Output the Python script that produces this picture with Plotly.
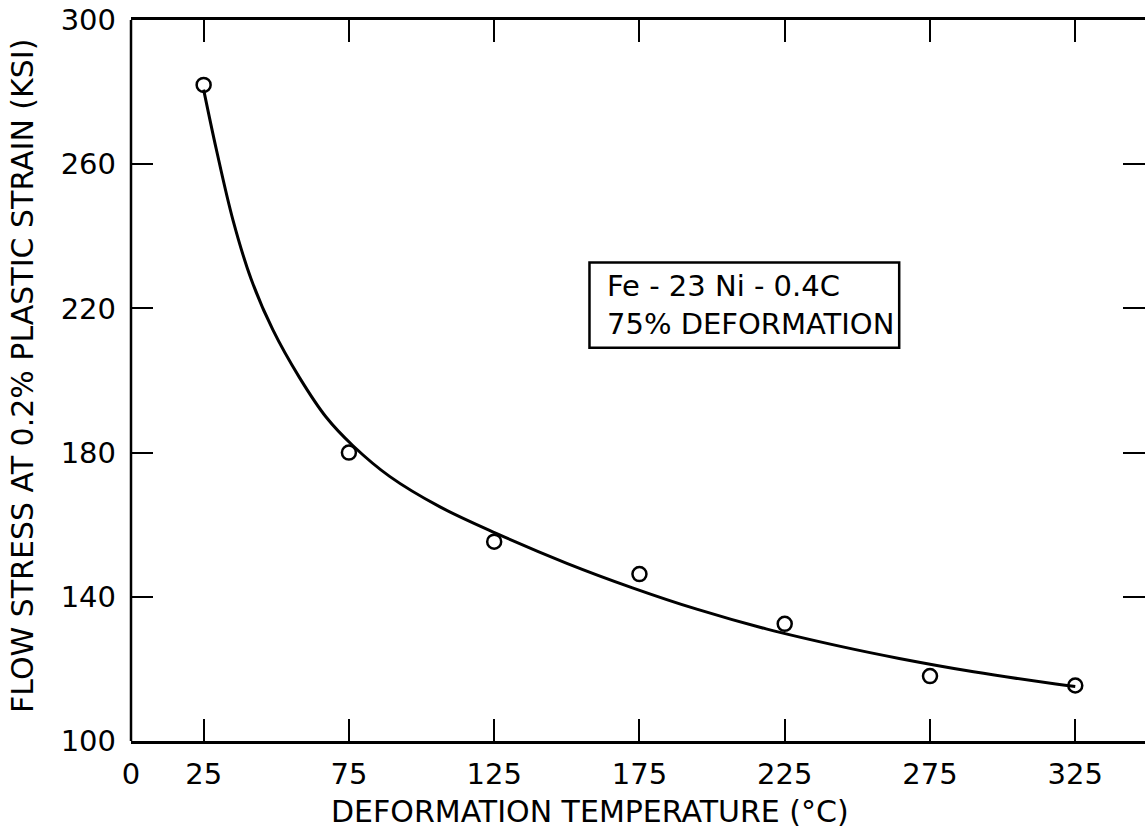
import plotly.graph_objects as go

# Measured points
temp_c = [25, 75, 125, 175, 225, 275, 325]
flow_stress_ksi = [282, 180, 155.3, 146.3, 132.5, 118, 115.4]

# Fitted curve
curve_x = [25, 29.4, 35.1, 41.4, 48.8, 58, 67.2, 76.4, 89, 106.2, 125.7, 150, 172.6, 195, 218.6, 245, 264.4, 290, 318.3, 325]
curve_y = [280.7, 264, 244.5, 228, 214.1, 200.8, 189.8, 181.9, 173.4, 165, 157.6, 149.3, 142.5, 136.5, 131.1, 126.1, 122.9, 119.2, 115.8, 115.1]

x_tickvals = [0, 25, 75, 125, 175, 225, 275, 325]
y_tickvals = [100, 140, 180, 220, 260, 300]

legend_lines = ["Fe - 23 Ni - 0.4C", "75% DEFORMATION"]

FONT = "DejaVu Sans"

fig = go.Figure()
fig.add_trace(go.Scatter(x=curve_x, y=curve_y, mode="lines",
                         line=dict(color="black", width=3, shape="spline", smoothing=1.0),
                         hoverinfo="skip", showlegend=False))
fig.add_trace(go.Scatter(x=temp_c, y=flow_stress_ksi, mode="markers",
                         marker=dict(symbol="circle-open", size=14, color="black",
                                     line=dict(width=2.5, color="black")),
                         showlegend=False))

fig.update_layout(
    width=1145, height=831,
    margin=dict(l=131, r=0, t=20, b=90),
    paper_bgcolor="white", plot_bgcolor="white",
    font=dict(family=FONT, color="black", size=29),
    xaxis=dict(range=[0, 349], tickvals=x_tickvals, ticktext=[str(v) for v in x_tickvals],
               ticks="inside", ticklen=22, tickwidth=2, tickcolor="black",
               showline=True, linewidth=2.5, linecolor="black", mirror="ticks",
               showgrid=False, zeroline=False, ticklabelstandoff=5,
               tickfont=dict(family=FONT, size=29)),
    yaxis=dict(range=[100, 300], tickvals=y_tickvals,
               ticks="inside", ticklen=22, tickwidth=2, tickcolor="black",
               showline=False, mirror="ticks",
               showgrid=False, zeroline=False, ticklabelstandoff=14,
               tickfont=dict(family=FONT, size=29)),
    shapes=[
        dict(type="line", xref="paper", yref="paper", x0=0, x1=0, y0=0, y1=1,
             line=dict(color="black", width=2.5)),
        dict(type="rect", xref="x", yref="y", x0=157.8, x1=264.4, y0=209.1, y1=232.7,
             line=dict(color="black", width=2.5), fillcolor="white", layer="above"),
    ],
    annotations=[
        dict(text="DEFORMATION TEMPERATURE (°C)", xref="paper", yref="paper",
             x=(590 - 131) / 1014, y=-(811 - 741) / 721, xanchor="center", yanchor="middle",
             showarrow=False, font=dict(family=FONT, size=30, color="black")),
        dict(text="FLOW STRESS AT 0.2% PLASTIC STRAIN (KSI)", xref="paper", yref="paper",
             x=(22 - 131) / 1014, y=(741 - 376) / 721, xanchor="center", yanchor="middle",
             textangle=-90, showarrow=False, font=dict(family=FONT, size=30, color="black")),
        dict(text="<br>".join(legend_lines), xref="x", yref="y",
             x=163, y=220.9, xanchor="left", yanchor="middle", align="left",
             showarrow=False, font=dict(family=FONT, size=29, color="black")),
    ],
)

fig.write_html("out.html")
